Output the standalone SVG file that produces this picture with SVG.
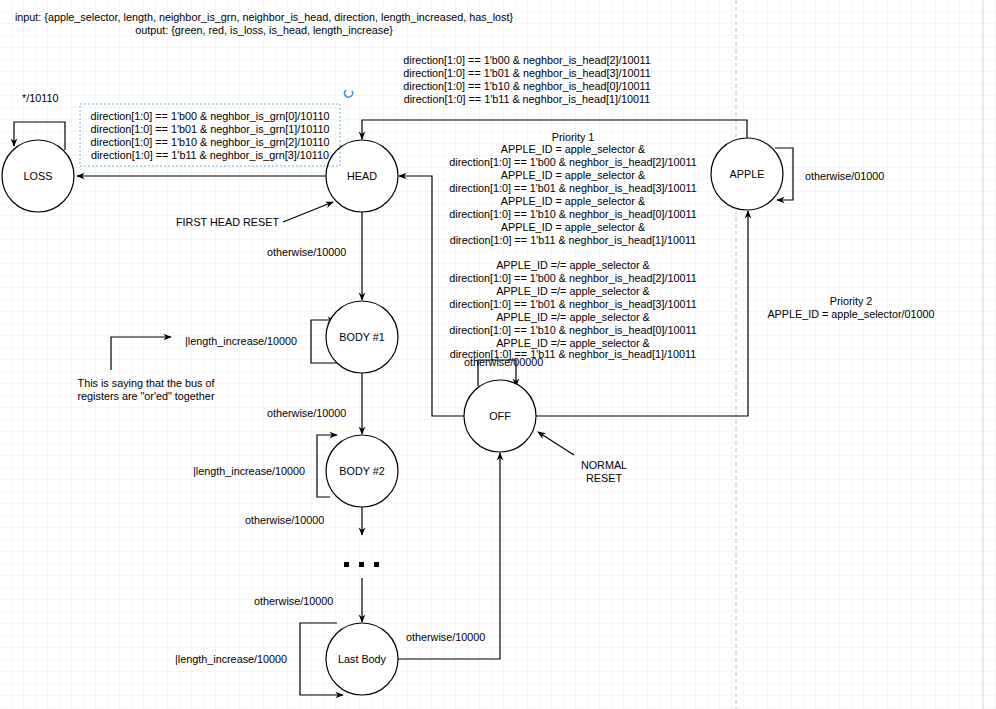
<svg xmlns="http://www.w3.org/2000/svg" width="996" height="709" viewBox="0 0 996 709">
<style>
text{font-family:"Liberation Sans",Arial,sans-serif;font-size:10.8px;fill:#000}
.c{text-anchor:middle}
.n{fill:#fff;stroke:#000;stroke-width:1.2}
.e{fill:none;stroke:#000;stroke-width:1.2}
</style>
<defs>
<pattern id="g" width="12" height="12" patternUnits="userSpaceOnUse"><path d="M12 0V12H0" fill="none" stroke="#ececec" stroke-width="1"/></pattern>
<marker id="a" viewBox="0 0 10 10" refX="9" refY="5" markerWidth="7" markerHeight="7" orient="auto"><path d="M0 1L10 5L0 9L3 5z" fill="#000"/></marker>
</defs>
<rect width="996" height="709" fill="#fff"/>
<rect width="996" height="709" fill="url(#g)"/>
<line x1="736" y1="0" x2="736" y2="709" stroke="#bbb" stroke-dasharray="4 3"/>
<line x1="983" y1="0" x2="983" y2="709" stroke="#ddd"/>
<text class="c" x="264" y="21">input: {apple_selector, length, neighbor_is_grn, neighbor_is_head, direction, length_increased, has_lost}</text>
<text class="c" x="264" y="34">output: {green, red, is_loss, is_head, length_increase}</text>
<g id="connectors">
<path class="e" d="M326 176H77" marker-end="url(#a)"/>
<path class="e" d="M65 150V122H14V146" marker-end="url(#a)"/>
<path class="e" d="M747 138V120H362V139" marker-end="url(#a)"/>
<path class="e" d="M775 148H793V200H777" marker-end="url(#a)"/>
<path class="e" d="M362 212V300" marker-end="url(#a)"/>
<path class="e" d="M338 363H311V320H335" marker-end="url(#a)"/>
<path class="e" d="M362 373V434" marker-end="url(#a)"/>
<path class="e" d="M330 497H317V435H337" marker-end="url(#a)"/>
<path class="e" d="M362 507V535" marker-end="url(#a)"/>
<path class="e" d="M362 578V622" marker-end="url(#a)"/>
<path class="e" d="M337 623H300V695H343" marker-end="url(#a)"/>
<path class="e" d="M398 659H500V453" marker-end="url(#a)"/>
<path class="e" d="M464 416H432V176H399" marker-end="url(#a)"/>
<path class="e" d="M536 416H748V211" marker-end="url(#a)"/>
<path class="e" d="M478 386V360H516V386" marker-end="url(#a)"/>
<path class="e" d="M283 222L333 202" marker-end="url(#a)"/>
<path class="e" d="M574 455L538 432" marker-end="url(#a)"/>
<path class="e" d="M111 370V337H171" marker-end="url(#a)"/>
</g>
<g id="loss"><circle class="n" cx="38" cy="176" r="36"/><text class="c" x="38" y="180">LOSS</text></g>
<g id="head"><circle class="n" cx="362" cy="176" r="36"/><text class="c" x="362" y="180">HEAD</text></g>
<g id="apple"><circle class="n" cx="747" cy="174" r="36"/><text class="c" x="747" y="178">APPLE</text></g>
<g id="body1"><circle class="n" cx="362" cy="337" r="36"/><text class="c" x="362" y="341">BODY #1</text></g>
<g id="body2"><circle class="n" cx="362" cy="471" r="36"/><text class="c" x="362" y="475">BODY #2</text></g>
<g id="off"><circle class="n" cx="500" cy="416" r="36"/><text class="c" x="500" y="420">OFF</text></g>
<g id="lastbody"><circle class="n" cx="362" cy="659" r="36"/><text class="c" x="362" y="663">Last Body</text></g>
<g id="dots"><rect x="344" y="562" width="5" height="5"/><rect x="359" y="562" width="5" height="5"/><rect x="374" y="562" width="5" height="5"/></g>
<g id="labels">
<text x="22" y="102">*/10110</text>
<rect x="80" y="104" width="260" height="62" fill="none" stroke="#6ab6d8" stroke-dasharray="2 2"/>
<text class="c" x="210" y="120">direction[1:0] == 1'b00 &amp; neghbor_is_grn[0]/10110</text>
<text class="c" x="210" y="133">direction[1:0] == 1'b01 &amp; neghbor_is_grn[1]/10110</text>
<text class="c" x="210" y="146">direction[1:0] == 1'b10 &amp; neghbor_is_grn[2]/10110</text>
<text class="c" x="210" y="159">direction[1:0] == 1'b11 &amp; neghbor_is_grn[3]/10110</text>
<path d="M346 90A4 4 0 1 0 352 91" fill="none" stroke="#3a8fd8" stroke-width="1.5"/>
<text class="c" x="527" y="64">direction[1:0] == 1'b00 &amp; neghbor_is_head[2]/10011</text>
<text class="c" x="527" y="77">direction[1:0] == 1'b01 &amp; neghbor_is_head[3]/10011</text>
<text class="c" x="527" y="90">direction[1:0] == 1'b10 &amp; neghbor_is_head[0]/10011</text>
<text class="c" x="527" y="103">direction[1:0] == 1'b11 &amp; neghbor_is_head[1]/10011</text>
<text class="c" x="573" y="141">Priority 1</text>
<text class="c" x="573" y="153">APPLE_ID = apple_selector &amp;</text>
<text class="c" x="573" y="166">direction[1:0] == 1'b00 &amp; neghbor_is_head[2]/10011</text>
<text class="c" x="573" y="179">APPLE_ID = apple_selector &amp;</text>
<text class="c" x="573" y="192">direction[1:0] == 1'b01 &amp; neghbor_is_head[3]/10011</text>
<text class="c" x="573" y="205">APPLE_ID = apple_selector &amp;</text>
<text class="c" x="573" y="218">direction[1:0] == 1'b10 &amp; neghbor_is_head[0]/10011</text>
<text class="c" x="573" y="231">APPLE_ID = apple_selector &amp;</text>
<text class="c" x="573" y="244">direction[1:0] == 1'b11 &amp; neghbor_is_head[1]/10011</text>
<text class="c" x="573" y="269">APPLE_ID =/= apple_selector &amp;</text>
<text class="c" x="573" y="282">direction[1:0] == 1'b00 &amp; neghbor_is_head[2]/10011</text>
<text class="c" x="573" y="295">APPLE_ID =/= apple_selector &amp;</text>
<text class="c" x="573" y="308">direction[1:0] == 1'b01 &amp; neghbor_is_head[3]/10011</text>
<text class="c" x="573" y="321">APPLE_ID =/= apple_selector &amp;</text>
<text class="c" x="573" y="334">direction[1:0] == 1'b10 &amp; neghbor_is_head[0]/10011</text>
<text class="c" x="573" y="347">APPLE_ID =/= apple_selector &amp;</text>
<text class="c" x="573" y="358">direction[1:0] == 1'b11 &amp; neghbor_is_head[1]/10011</text>
<text x="464" y="366">otherwise/00000</text>
<text x="805" y="180">otherwise/01000</text>
<text class="c" x="851" y="305">Priority 2</text>
<text class="c" x="851" y="318">APPLE_ID = apple_selector/01000</text>
<text x="176" y="226">FIRST HEAD RESET</text>
<text x="267" y="256">otherwise/10000</text>
<text x="185" y="345">|length_increase/10000</text>
<text class="c" x="146" y="387">This is saying that the bus of</text>
<text class="c" x="146" y="400">registers are "or'ed" together</text>
<text x="267" y="417">otherwise/10000</text>
<text x="193" y="475">|length_increase/10000</text>
<text x="245" y="524">otherwise/10000</text>
<text class="c" x="604" y="469">NORMAL</text>
<text class="c" x="604" y="482">RESET</text>
<text x="254" y="605">otherwise/10000</text>
<text x="406" y="641">otherwise/10000</text>
<text x="175" y="663">|length_increase/10000</text>
</g>
</svg>
